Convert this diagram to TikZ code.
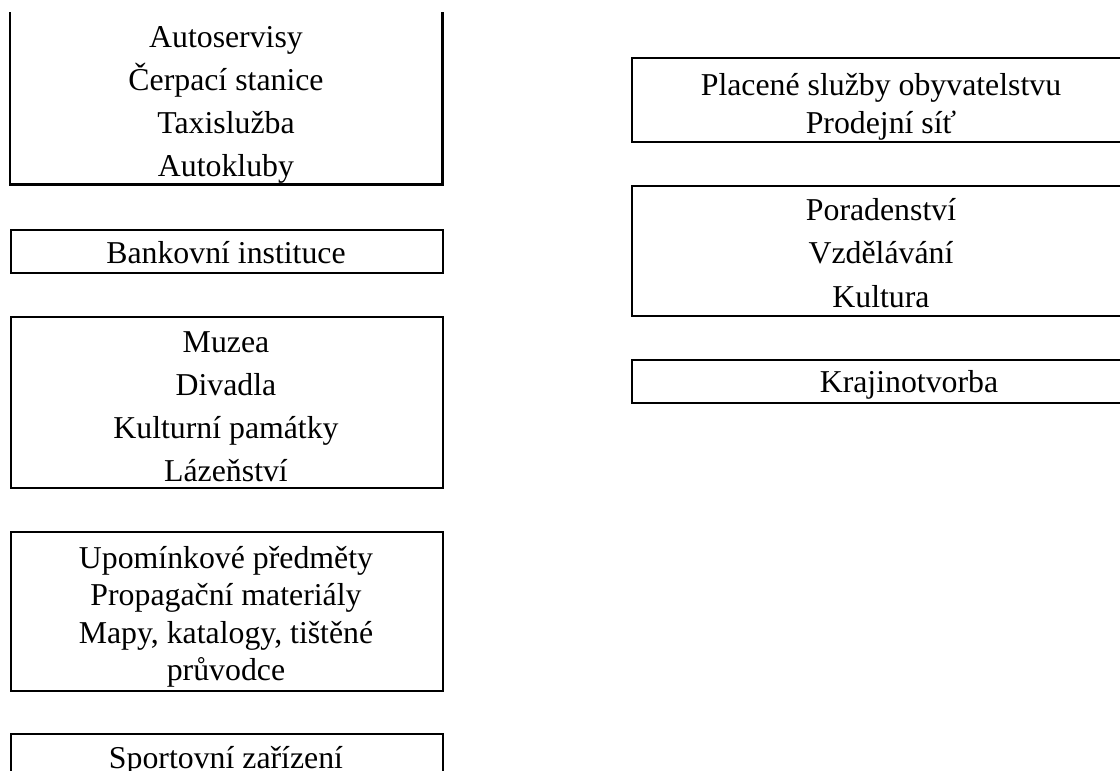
\documentclass[tikz,border=0pt]{standalone}
\usepackage{fontspec}
\setmainfont{Liberation Serif}
\tikzset{
  boxshape/.style={rectangle, draw=black, line width=2.4pt, inner sep=0pt, anchor=north west},
  openshape/.style={rectangle, inner sep=0pt, anchor=north west},
  txt/.style={inner sep=0pt, align=center, text=black},
}
\newcommand{\fa}{\fontsize{31.8}{43}\selectfont}
\newcommand{\fb}{\fontsize{31.8}{37.5}\selectfont}
\newcommand{\fc}{\fontsize{31.8}{38}\selectfont}
\newcommand{\fd}{\fontsize{31.8}{43.5}\selectfont}
\begin{document}
\begin{tikzpicture}[x=1pt, y=-1pt]
\fill[white] (0,0) rectangle (1120,771);
\clip (0,0) rectangle (1120,771);
% left column
\node[openshape, minimum width=432pt, minimum height=172pt] (l1) at (10,12) {};
\draw[line width=2.4pt] (l1.north west) -- (l1.south west) -- (l1.south east) -- (l1.north east);
\node[txt, font=\fa, anchor=north] (t1) at (226,17.4) {\strut Autoservisy\\\strut Čerpací stanice\\\strut Taxislužba\\\strut Autokluby};
\node[boxshape, minimum width=432pt, minimum height=43pt] (l2) at (10,229) {};
\node[txt, font=\fa, anchor=base] (t2) at (226,263) {Bankovní instituce};
\node[boxshape, minimum width=432pt, minimum height=171pt] (l3) at (10,316) {};
\node[txt, font=\fa, anchor=north] (t3) at (226,321.9) {\strut Muzea\\\strut Divadla\\\strut Kulturní památky\\\strut Lázeňství};
\node[boxshape, minimum width=432pt, minimum height=159pt] (l4) at (10,531) {};
\node[txt, font=\fb, anchor=north] (t4) at (226,541.75) {\strut Upomínkové předměty\\\strut Propagační materiály\\\strut Mapy, katalogy, tištěné\\\strut průvodce};
\node[boxshape, minimum width=432pt, minimum height=80pt] (l5) at (10,733) {};
\node[txt, font=\fa, anchor=base] (t5) at (226,768) {Sportovní zařízení};
% right column
\node[boxshape, minimum width=520pt, minimum height=84pt] (r1) at (631,57) {};
\node[txt, font=\fc, anchor=north] (s1) at (881,68.4) {\strut Placené služby obyvatelstvu\\\strut Prodejní síť};
\node[boxshape, minimum width=520pt, minimum height=130pt] (r2) at (631,185) {};
\node[txt, font=\fd, anchor=north] (s2) at (881,189.55) {\strut Poradenství\\\strut Vzdělávání\\\strut Kultura};
\node[boxshape, minimum width=560pt, minimum height=43pt] (r3) at (631,359) {};
\node[txt, font=\fa, anchor=base] (s3) at (909,392) {Krajinotvorba};
\end{tikzpicture}
\end{document}
